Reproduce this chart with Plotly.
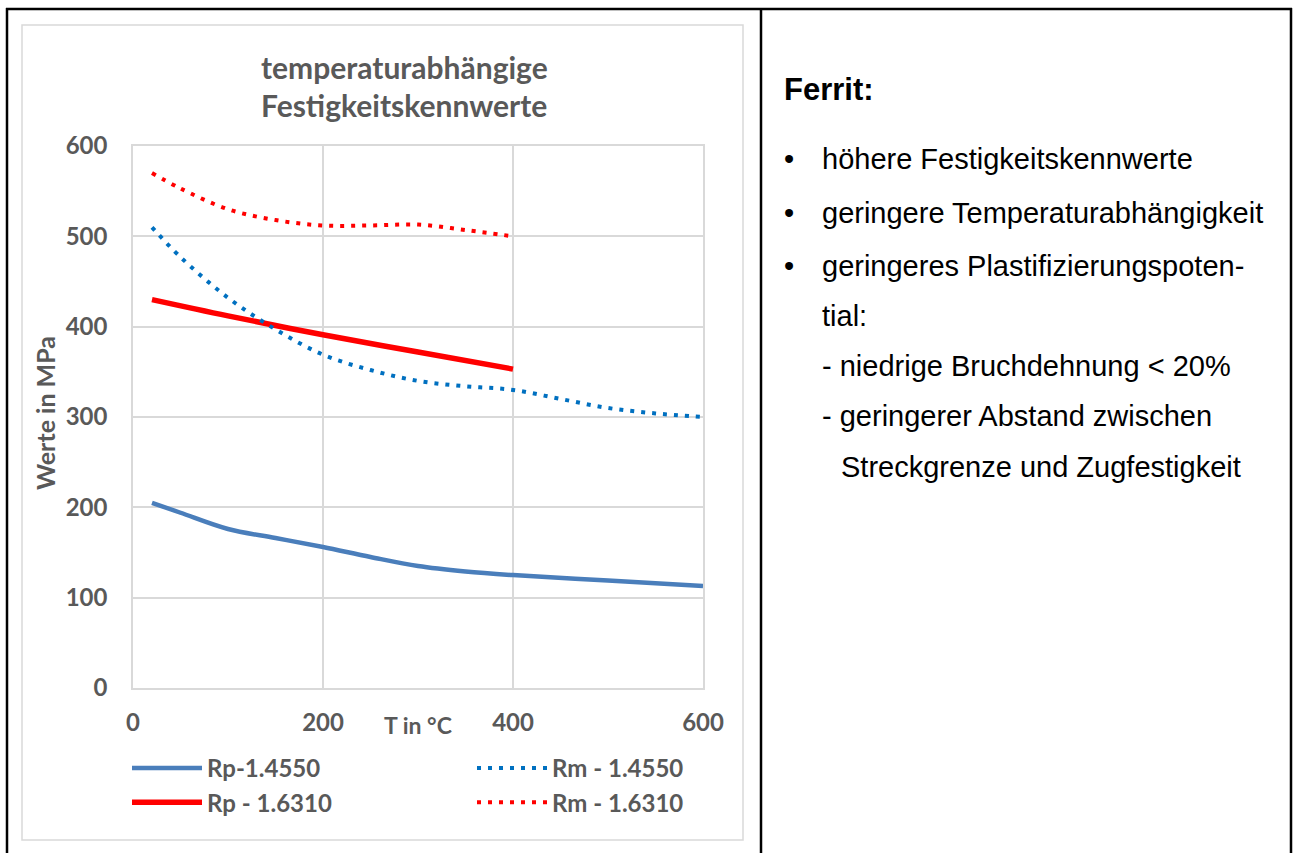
import plotly.graph_objects as go

# ---------------- data ----------------
T_rp_14550 = [20, 50, 100, 150, 200, 250, 300, 350, 400, 500, 600]
rp_14550 = [205, 194, 176, 166, 156, 145, 135, 129, 125, 119, 113]

T_rm_14550 = [20, 50, 100, 150, 200, 250, 300, 350, 400, 450, 500, 550, 600]
rm_14550 = [510, 477, 432, 397, 369, 352, 340, 334, 330, 320, 310, 304, 300]

T_rp_16310 = [20, 100, 200, 300, 400]
rp_16310 = [430, 412, 391, 372, 353]

T_rm_16310 = [20, 50, 100, 150, 200, 250, 300, 350, 400]
rm_16310 = [570, 553, 530, 518, 512, 512, 513, 507, 500]

x_ticks = [0, 200, 400, 600]
y_ticks = [0, 100, 200, 300, 400, 500, 600]

title_lines = ["temperaturabhängige", "Festigkeitskennwerte"]
x_title = "T in °C"
y_title = "Werte in MPa"

right_heading = "Ferrit:"
bullets = ["höhere Festigkeitskennwerte",
           "geringere Temperaturabhängigkeit",
           "geringeres Plastifizierungspoten-"]
continuation = "tial:"
sub_items = ["- niedrige Bruchdehnung < 20%", "- geringerer Abstand zwischen"]
sub_continuation = "Streckgrenze und Zugfestigkeit"

# ---------------- layout geometry (pixels) ----------------
W, H = 1295, 853
L, R, TOP, BOT = 133, 703, 146, 688
PW, PH = R - L, BOT - TOP


def px(xp):
    return (xp - L) / PW


def py(yp):
    return (BOT - yp) / PH


GRAY = "#595959"
GRID = "#d9d9d9"
CFONT = "Lato"

fig = go.Figure()
fig.add_trace(go.Scatter(x=T_rp_14550, y=rp_14550, mode="lines", name="Rp-1.4550",
                         line=dict(color="#4a7ebb", width=4.5, shape="spline", smoothing=1.0),
                         legend="legend"))
fig.add_trace(go.Scatter(x=T_rp_16310, y=rp_16310, mode="lines", name="Rp - 1.6310",
                         line=dict(color="#ff0000", width=5.5, shape="spline", smoothing=1.0),
                         legend="legend"))
fig.add_trace(go.Scatter(x=T_rm_14550, y=rm_14550, mode="lines", name="Rm - 1.4550",
                         line=dict(color="#0070c0", width=4, shape="spline", smoothing=1.0,
                                   dash="4px,7px"),
                         legend="legend2"))
fig.add_trace(go.Scatter(x=T_rm_16310, y=rm_16310, mode="lines", name="Rm - 1.6310",
                         line=dict(color="#ff0000", width=4, shape="spline", smoothing=1.0,
                                   dash="4px,7px"),
                         legend="legend2"))

TICK = 24
axis_common = dict(showgrid=True, gridcolor=GRID, gridwidth=1.5, zeroline=False,
                   showline=True, linecolor=GRID, linewidth=1.5, mirror=True,
                   ticks="", tickfont=dict(family=CFONT, size=TICK, color=GRAY, weight="bold"))

lfont = dict(family=CFONT, size=TICK, color=GRAY, weight="bold")
fig.update_layout(
    width=W, height=H,
    margin=dict(l=L, r=W - R, t=TOP, b=H - BOT, autoexpand=False),
    paper_bgcolor="white", plot_bgcolor="white",
    xaxis=dict(range=[0, 600], tickvals=x_ticks, ticklabelstandoff=12, **axis_common),
    yaxis=dict(range=[0, 600], tickvals=y_ticks, ticklabelstandoff=19, **axis_common),
    legend=dict(x=px(127), y=py(746), xanchor="left", yanchor="top",
                orientation="v", itemwidth=70, font=lfont,
                bgcolor="rgba(0,0,0,0)"),
    legend2=dict(x=px(472), y=py(746), xanchor="left", yanchor="top",
                 orientation="v", itemwidth=70, font=lfont,
                 bgcolor="rgba(0,0,0,0)"),
    showlegend=True,
)

shapes = []
# outer table borders (black)
blk = dict(color="black", width=2.5)
shapes.append(dict(type="line", xref="paper", yref="paper", x0=px(6), x1=px(1292), y0=py(9), y1=py(9), line=blk))
for xx in (7, 761, 1291):
    shapes.append(dict(type="line", xref="paper", yref="paper", x0=px(xx), x1=px(xx), y0=py(8), y1=py(860), line=blk))
# chart area frame (light gray)
shapes.append(dict(type="rect", xref="paper", yref="paper", x0=px(22), x1=px(743), y0=py(25), y1=py(840),
                   line=dict(color=GRID, width=1.5)))
fig.update_layout(shapes=shapes)

ann = []
tfont = dict(family=CFONT, size=30, color=GRAY, weight="bold")
for t, yy in zip(title_lines, (67, 105)):
    ann.append(dict(text=t, x=px(404), y=py(yy), xref="paper", yref="paper",
                    xanchor="center", yanchor="middle", showarrow=False, font=tfont))
ann.append(dict(text=y_title, x=px(45), y=py(413), xref="paper", yref="paper", textangle=-90,
                xanchor="center", yanchor="middle", showarrow=False,
                font=dict(family=CFONT, size=25, color=GRAY, weight="bold")))
ann.append(dict(text=x_title, x=px(418), y=py(725), xref="paper", yref="paper",
                xanchor="center", yanchor="middle", showarrow=False,
                font=dict(family=CFONT, size=23, color=GRAY, weight="bold")))

# right-hand text cell
RF = "Liberation Sans, Arial, sans-serif"
bfont = dict(family=RF, size=29, color="black")
ann.append(dict(text="<b>" + right_heading + "</b>", x=px(782), y=py(89), xref="paper", yref="paper",
                xanchor="left", yanchor="middle", showarrow=False,
                font=dict(family=RF, size=31, color="black")))
line_y = [159, 213, 266, 316, 366, 416, 467]
for i, b in enumerate(bullets):
    ann.append(dict(text="•", x=px(789), y=py(line_y[i]), xref="paper", yref="paper",
                    xanchor="center", yanchor="middle", showarrow=False, font=bfont))
    ann.append(dict(text=b, x=px(820), y=py(line_y[i]), xref="paper", yref="paper",
                    xanchor="left", yanchor="middle", showarrow=False, font=bfont))
ann.append(dict(text=continuation, x=px(820), y=py(line_y[3]), xref="paper", yref="paper",
                xanchor="left", yanchor="middle", showarrow=False, font=bfont))
for i, s in enumerate(sub_items):
    ann.append(dict(text=s, x=px(820), y=py(line_y[4 + i]), xref="paper", yref="paper",
                    xanchor="left", yanchor="middle", showarrow=False, font=bfont))
ann.append(dict(text=sub_continuation, x=px(839), y=py(line_y[6]), xref="paper", yref="paper",
                xanchor="left", yanchor="middle", showarrow=False, font=bfont))
fig.update_layout(annotations=ann)

fig.write_html("out.html", config={"displayModeBar": False},
               post_script="document.body.style.margin='0';document.body.style.overflow='hidden';")
